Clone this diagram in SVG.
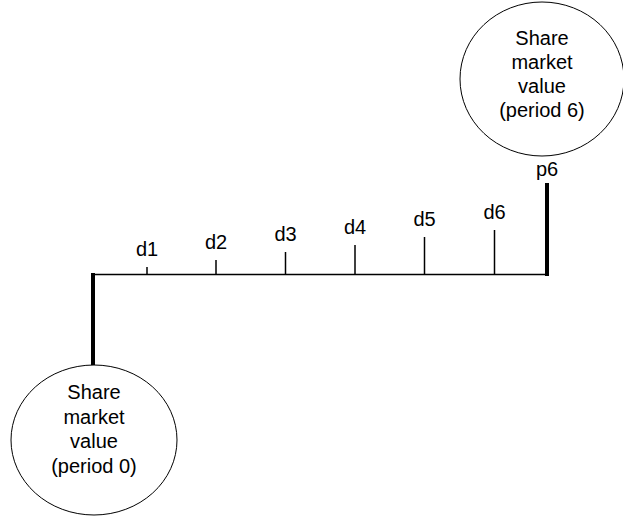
<svg xmlns="http://www.w3.org/2000/svg" width="623" height="518" viewBox="0 0 623 518">
<style>
text{font-family:"Liberation Sans",Arial,sans-serif;font-size:20px;fill:#000;text-anchor:middle}
.node{fill:#fff;stroke:#000;stroke-width:1}
.thin{stroke:#000;stroke-width:1.5;fill:none}
.thick{stroke:#000;stroke-width:4;fill:none}
</style>
<rect width="623" height="518" fill="#fff"/>
<g id="connectors">
<line class="thick" x1="93" y1="273" x2="93" y2="365"/>
<line class="thin" x1="92" y1="274.5" x2="548" y2="274.5"/>
<line class="thick" x1="547" y1="183" x2="547" y2="276"/>
<line class="thin" x1="147" y1="267" x2="147" y2="274"/>
<line class="thin" x1="216" y1="260" x2="216" y2="274"/>
<line class="thin" x1="285.5" y1="252" x2="285.5" y2="274"/>
<line class="thin" x1="355" y1="245" x2="355" y2="274"/>
<line class="thin" x1="424.5" y1="237" x2="424.5" y2="274"/>
<line class="thin" x1="494.5" y1="230" x2="494.5" y2="274"/>
</g>
<g id="labels">
<text x="147" y="256">d1</text>
<text x="216" y="249">d2</text>
<text x="285.5" y="241">d3</text>
<text x="355" y="234">d4</text>
<text x="424.5" y="226">d5</text>
<text x="494.5" y="219">d6</text>
<text x="547" y="176">p6</text>
</g>
<g id="period6">
<ellipse class="node" cx="542" cy="79" rx="82" ry="77"/>
<text x="542" y="45">Share</text>
<text x="542" y="69">market</text>
<text x="542" y="93">value</text>
<text x="542" y="117">(period 6)</text>
</g>
<g id="period0">
<ellipse class="node" cx="94" cy="440" rx="83" ry="75"/>
<text x="94" y="399">Share</text>
<text x="94" y="424">market</text>
<text x="94" y="448">value</text>
<text x="94" y="473">(period 0)</text>
</g>
</svg>
